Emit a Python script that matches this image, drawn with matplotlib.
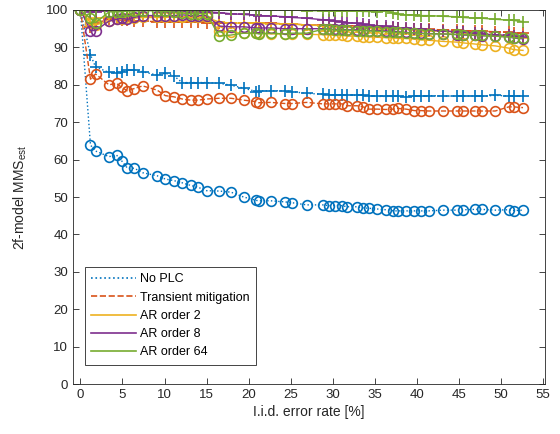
import matplotlib
matplotlib.use("Agg")
import matplotlib.pyplot as plt
from matplotlib.lines import Line2D

# error rates [%] (same grid for every curve)
error_rate = [0, 1.2, 1.8, 3.4, 4.3, 4.9, 5.6, 6.4, 7.4, 9.1,
              10.1, 11.1, 12.1, 13.1, 14.0, 15.0, 16.5, 17.9, 19.4, 20.9,
              21.2, 22.6, 24.3, 25.1, 26.9, 28.8, 29.5, 30.3, 31.1, 31.7,
              32.9, 33.6, 34.3, 35.3, 36.3, 37.2, 37.7, 38.7, 39.7, 40.5,
              41.4, 43.1, 44.8, 45.5, 46.9, 47.7, 49.3, 50.9, 51.5, 52.6]

# 'o' curves
no_plc_o = [100, 63.9, 62.3, 60.8, 61.2, 59.7, 57.7, 57.7, 56.5, 55.7,
            54.8, 54.4, 53.8, 53.1, 52.6, 51.7, 51.6, 51.3, 50.0, 49.1,
            49.0, 49.0, 48.7, 48.5, 47.9, 47.9, 47.7, 47.7, 47.7, 47.4,
            47.4, 47.1, 47.0, 46.8, 46.6, 46.3, 46.3, 46.3, 46.3, 46.3,
            46.3, 46.5, 46.5, 46.6, 46.7, 46.7, 46.5, 46.6, 46.4, 46.5]
transient_o = [100, 81.5, 82.9, 80.0, 80.4, 79.3, 78.4, 79.0, 79.7, 78.6,
               77.1, 76.8, 76.2, 75.9, 75.9, 76.2, 76.4, 76.4, 75.9, 75.5,
               75.2, 75.3, 75.0, 75.0, 75.3, 74.9, 74.9, 74.9, 74.9, 74.4,
               74.4, 74.1, 73.5, 73.5, 73.4, 73.5, 73.7, 73.5, 73.1, 73.1,
               73.0, 73.0, 73.0, 73.0, 73.0, 73.0, 73.0, 74.1, 74.1, 73.9]
ar2_o = [100, 96.5, 96.0, 97.0, 97.5, 97.5, 97.8, 97.8, 98.0, 98.0,
         98.0, 98.2, 98.2, 98.0, 98.0, 98.0, 94.5, 94.0, 93.8, 93.8,
         93.8, 93.6, 93.6, 93.5, 93.5, 93.4, 93.3, 93.2, 93.2, 93.0,
         93.0, 92.9, 92.8, 92.7, 92.6, 92.5, 92.4, 92.4, 92.2, 92.0,
         91.9, 91.6, 91.4, 91.2, 90.9, 90.7, 90.4, 89.8, 89.4, 89.2]
ar8_o = [100, 94.5, 94.5, 97.0, 97.5, 97.8, 97.5, 98.0, 98.5, 98.5,
         98.5, 98.5, 98.7, 98.5, 98.5, 98.5, 95.7, 95.5, 95.5, 95.2,
         95.2, 95.2, 95.0, 95.0, 95.0, 95.0, 94.9, 94.8, 94.8, 94.7,
         94.7, 94.6, 94.5, 94.5, 94.4, 94.3, 94.2, 94.0, 93.9, 93.8,
         93.7, 93.6, 93.4, 93.3, 93.2, 93.1, 93.0, 92.8, 92.5, 92.3]
ar64_o = [100, 97.8, 96.6, 99.5, 99.5, 99.5, 99.7, 99.7, 99.8, 99.8,
          99.6, 99.4, 99.2, 99.0, 99.0, 99.0, 93.0, 93.3, 93.8, 93.8,
          93.6, 93.8, 93.6, 93.8, 93.8, 94.8, 94.8, 94.6, 94.6, 94.6,
          94.5, 94.5, 94.4, 94.3, 94.2, 94.0, 94.0, 93.9, 93.9, 93.7,
          93.6, 93.6, 93.5, 93.4, 93.3, 93.2, 93.0, 92.8, 92.6, 92.5]

# '+' curves
no_plc_p = [100, 88.0, 84.8, 83.3, 83.1, 83.3, 84.0, 84.0, 83.5, 82.6,
            83.1, 82.4, 80.6, 80.6, 80.6, 80.6, 80.4, 79.9, 79.1, 78.2,
            78.4, 78.4, 78.4, 78.2, 77.7, 77.5, 77.3, 77.3, 77.3, 77.3,
            77.2, 77.2, 77.0, 76.9, 76.9, 76.9, 77.0, 76.8, 77.0, 77.0,
            77.1, 77.0, 77.0, 77.0, 77.0, 76.9, 77.2, 77.0, 77.0, 77.0]
transient_p = [100, 95.5, 96.5, 97.5, 97.5, 97.3, 97.3, 97.0, 97.0, 96.9,
               96.9, 96.8, 96.8, 96.7, 96.7, 96.5, 96.5, 96.5, 96.5, 96.5,
               96.5, 96.5, 96.3, 96.3, 96.0, 96.0, 95.9, 95.8, 95.8, 95.7,
               95.6, 95.5, 95.5, 95.4, 95.3, 95.2, 95.1, 95.0, 95.0, 94.9,
               94.8, 94.7, 94.6, 94.5, 94.4, 94.3, 94.2, 94.0, 93.9, 93.8]
ar2_p = [100, 97.5, 97.8, 98.0, 98.0, 98.2, 98.2, 98.3, 98.3, 98.4,
         98.4, 98.3, 98.2, 98.2, 98.0, 98.0, 96.8, 96.5, 96.5, 96.4,
         96.4, 96.3, 96.3, 96.2, 96.0, 95.8, 95.6, 95.6, 95.5, 95.5,
         95.4, 95.2, 95.2, 95.0, 95.0, 94.9, 94.8, 94.8, 94.6, 94.5,
         94.4, 94.3, 94.0, 93.9, 93.6, 93.5, 93.3, 93.0, 92.8, 92.6]
ar8_p = [100, 99.5, 99.5, 99.8, 99.8, 99.8, 100, 100, 100, 100,
         100, 99.8, 99.8, 99.8, 99.7, 99.5, 99.3, 99.0, 98.8, 98.6,
         98.5, 98.4, 98.2, 98.0, 97.8, 97.4, 97.2, 97.0, 96.8, 96.6,
         96.4, 96.2, 96.0, 95.8, 95.6, 95.4, 95.3, 95.1, 95.0, 94.8,
         94.6, 94.4, 94.2, 94.0, 93.8, 93.6, 93.4, 93.2, 93.0, 92.8]
ar64_p = [100, 100, 100, 100, 100, 100, 100, 100, 100, 100,
          100, 100, 100, 100, 100, 100, 100, 100, 100, 100,
          100, 100, 100, 100, 99.8, 99.8, 99.8, 99.8, 99.8, 99.7,
          99.7, 99.6, 99.6, 99.5, 99.8, 99.2, 98.8, 98.7, 98.7, 98.5,
          98.5, 98.3, 98.2, 98.0, 97.8, 97.8, 97.5, 97.3, 97.2, 96.9]

labels = ["No PLC", "Transient mitigation", "AR order 2", "AR order 8", "AR order 64"]
colors = [(0, 0.447, 0.741), (0.85, 0.325, 0.098), (0.929, 0.694, 0.125),
          (0.494, 0.184, 0.556), (0.466, 0.674, 0.188)]
styles = [":", "--", "-", "-", "-"]
curves_o = [no_plc_o, transient_o, ar2_o, ar8_o, ar64_o]
curves_p = [no_plc_p, transient_p, ar2_p, ar8_p, ar64_p]

plt.rcParams["font.family"] = ["Liberation Sans", "DejaVu Sans"]
plt.rcParams["mathtext.fontset"] = "custom"
plt.rcParams["mathtext.rm"] = "Liberation Sans"

fig = plt.figure(figsize=(5.6, 4.34), dpi=100)
ax = fig.add_axes([0.130, 0.115, 0.843, 0.862])

for i in range(len(labels)):
    ax.plot(error_rate, curves_o[i], styles[i], color=colors[i], lw=1.0,
            marker="o", ms=7, mew=1.2, mfc="none")
    ax.plot(error_rate, curves_p[i], styles[i], color=colors[i], lw=1.0,
            marker="+", ms=8, mew=1.2)

ax.set_xlim(-0.9, 55.2)
ax.set_ylim(0, 100)
ax.set_xticks(range(0, 56, 5))
ax.set_yticks(range(0, 101, 10))

gray = (0.15, 0.15, 0.15)
ax.tick_params(direction="in", top=True, right=True, labelsize=9.5,
               colors=gray, length=4, width=0.6)
for s in ax.spines.values():
    s.set_color(gray)
    s.set_linewidth(0.6)

ax.set_xlabel("I.i.d. error rate [%]", fontsize=10, color=gray, labelpad=3)
ax.set_ylabel("2f-model MMS$_{\\mathrm{est}}$", fontsize=10, color=gray, labelpad=12)

handles = [Line2D([], [], ls=styles[i], color=colors[i], lw=1.2) for i in range(len(labels))]
leg = ax.legend(handles, labels, loc="lower left", bbox_to_anchor=(0.012, 0.035),
                fontsize=9, fancybox=False, framealpha=1, handlelength=3.6,
                borderpad=0.5, labelspacing=0.5, handletextpad=0.3)
leg.get_frame().set_edgecolor(gray)
leg.get_frame().set_linewidth(0.6)

fig.savefig("out.png", dpi=100)
